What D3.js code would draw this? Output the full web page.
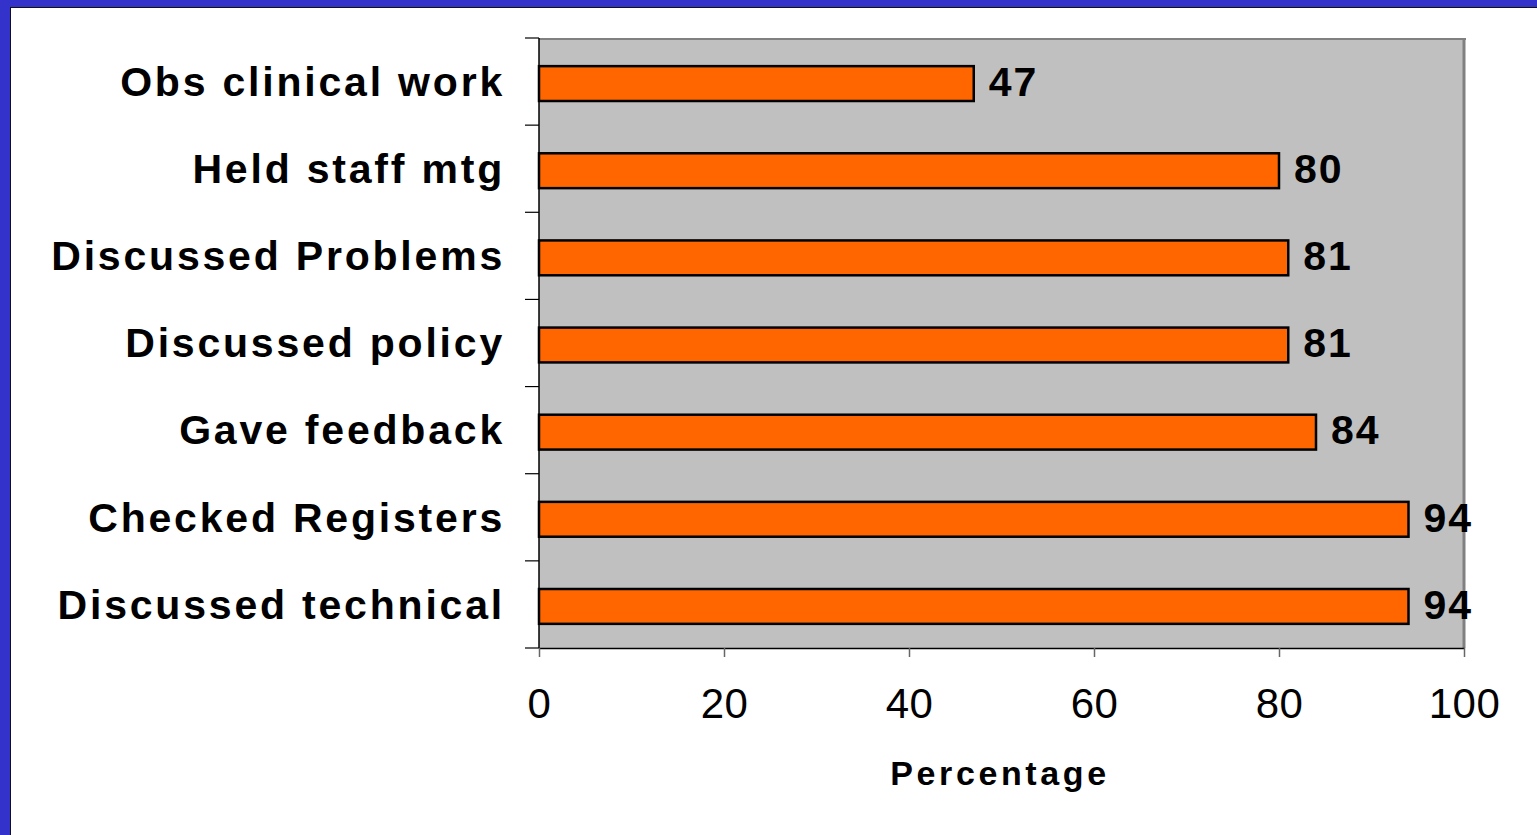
<!DOCTYPE html>
<html>
<head>
<meta charset="utf-8">
<script src="https://cdn.jsdelivr.net/npm/d3@7"></script>
<style>
  html, body { margin: 0; padding: 0; background: #fff; }
  #plot1 { width: 1537px; height: 835px; }
  text { font-family: "Liberation Sans", Arial, sans-serif; }
</style>
</head>
<body>
<div id="plot1"></div>
<script>
// Data
const categories = [
  "Obs clinical work",
  "Held staff mtg",
  "Discussed Problems",
  "Discussed policy",
  "Gave feedback",
  "Checked Registers",
  "Discussed technical"
];
const values = [47, 80, 81, 81, 84, 94, 94];
const xTicks = [0, 20, 40, 60, 80, 100];

const W = 1537, H = 835;
const plot = { left: 539, right: 1464, top: 38, bottom: 648 };

const svg = d3.select("#plot1")
  .append("svg")
  .attr("width", W)
  .attr("height", H);

// slide frame: blue bars at top and left
svg.append("rect").attr("x", 0).attr("y", 0).attr("width", W).attr("height", 7).attr("fill", "#3333CC");
svg.append("rect").attr("x", 0).attr("y", 0).attr("width", 10).attr("height", H).attr("fill", "#3333CC");
svg.append("line").attr("x1", 10).attr("x2", W).attr("y1", 7.5).attr("y2", 7.5).attr("stroke", "#111").attr("stroke-width", 1);
svg.append("line").attr("x1", 10.5).attr("x2", 10.5).attr("y1", 7).attr("y2", H).attr("stroke", "#111").attr("stroke-width", 1);

// scales
const x = d3.scaleLinear().domain([0, 100]).range([plot.left, plot.right]);
const y = d3.scaleBand().domain(categories).range([plot.top + 2, plot.bottom + 2]).paddingInner(0.6).paddingOuter(0.3);

// plot background
svg.append("rect")
  .attr("x", plot.left).attr("y", plot.top)
  .attr("width", plot.right - plot.left).attr("height", plot.bottom - plot.top)
  .attr("fill", "#C0C0C0");
// gray frame on top and right
svg.append("line").attr("x1", plot.left).attr("x2", plot.right + 2).attr("y1", plot.top + 1).attr("y2", plot.top + 1)
  .attr("stroke", "#808080").attr("stroke-width", 2);
svg.append("line").attr("x1", plot.right).attr("x2", plot.right).attr("y1", plot.top).attr("y2", plot.bottom)
  .attr("stroke", "#808080").attr("stroke-width", 3);

// bars
svg.append("g")
  .selectAll("rect")
  .data(values)
  .join("rect")
  .attr("x", x(0))
  .attr("y", (d, i) => y(categories[i]))
  .attr("width", d => x(d) - x(0))
  .attr("height", y.bandwidth())
  .attr("fill", "#FF6600")
  .attr("stroke", "#000")
  .attr("stroke-width", 2.5);

// value labels
svg.append("g")
  .selectAll("text")
  .data(values)
  .join("text")
  .attr("x", d => x(d) + 15)
  .attr("y", (d, i) => y(categories[i]) + y.bandwidth() / 2)
  .attr("dy", "0.3em")
  .attr("font-size", 41)
  .attr("font-weight", "bold")
  .attr("letter-spacing", 2)
  .attr("fill", "#000")
  .text(d => d);

// y axis (category boundaries as ticks)
const yStep = (plot.bottom - plot.top) / categories.length;
const yAxis = svg.append("g");
yAxis.append("line").attr("x1", plot.left).attr("x2", plot.left).attr("y1", plot.top).attr("y2", plot.bottom)
  .attr("stroke", "#000").attr("stroke-width", 1.5);
yAxis.selectAll(".ytick")
  .data(d3.range(categories.length + 1))
  .join("line")
  .attr("class", "ytick")
  .attr("x1", plot.left - 14).attr("x2", plot.left)
  .attr("y1", i => plot.top + i * yStep).attr("y2", i => plot.top + i * yStep)
  .attr("stroke", "#000").attr("stroke-width", 1.2);
yAxis.selectAll(".ylab")
  .data(categories)
  .join("text")
  .attr("class", "ylab")
  .attr("x", 505)
  .attr("y", d => y(d) + y.bandwidth() / 2)
  .attr("dy", "0.3em")
  .attr("text-anchor", "end")
  .attr("font-size", 41)
  .attr("font-weight", "bold")
  .attr("letter-spacing", 2.8)
  .attr("fill", "#000")
  .text(d => d);

// x axis
const xAxis = svg.append("g").attr("transform", `translate(0,${plot.bottom})`)
  .call(d3.axisBottom(x).tickValues(xTicks).tickSize(9).tickPadding(31).tickSizeOuter(0));
xAxis.select(".domain").attr("stroke", "#000").attr("stroke-width", 1.5);
xAxis.selectAll(".tick line").attr("stroke", "#666").attr("stroke-width", 1.5);
xAxis.selectAll(".tick text")
  .attr("font-size", 42)
  .attr("letter-spacing", 0.5)
  .attr("font-family", "'Liberation Sans', Arial, sans-serif")
  .attr("fill", "#000");

// axis title
svg.append("text")
  .attr("x", 1000)
  .attr("y", 785)
  .attr("text-anchor", "middle")
  .attr("font-size", 34)
  .attr("font-weight", "bold")
  .attr("letter-spacing", 3.6)
  .attr("fill", "#000")
  .text("Percentage");
</script>
</body>
</html>
